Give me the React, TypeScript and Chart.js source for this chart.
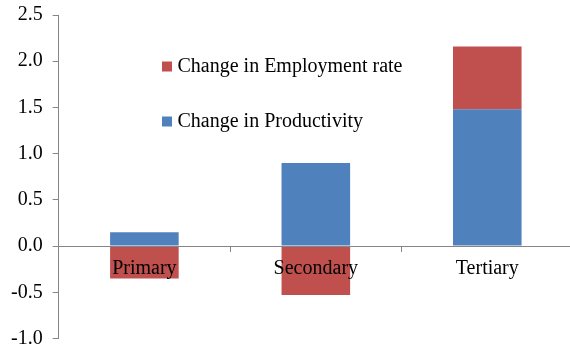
import React, { useEffect, useRef } from "react";
import { Chart, registerables } from "chart.js";

Chart.register(...registerables);

const categories = ["Primary", "Secondary", "Tertiary"];
const productivity = [0.15, 0.9, 1.48];
const employment = [-0.35, -0.53, 0.68];
const seriesNames = ["Change in Productivity", "Change in Employment rate"];
const seriesColors = ["#4F81BD", "#C0504D"];
const yMin = -1.0;
const yMax = 2.5;
const yStep = 0.5;

const FONT = "'Liberation Serif', 'Times New Roman', serif";
const AXIS_COLOR = "#868686";

const legendPlugin = {
  id: "customLegend",
  afterDraw(chart: any) {
    const ctx = chart.ctx;
    ctx.save();
    ctx.font = `20px ${FONT}`;
    ctx.textBaseline = "alphabetic";
    ctx.textAlign = "left";
    // legend drawn in reverse order (Employment first)
    const entries = [1, 0];
    const rows = [72, 127];
    entries.forEach((di, i) => {
      const ds = chart.data.datasets[di];
      const base = rows[i];
      ctx.fillStyle = ds.backgroundColor;
      ctx.fillRect(162, base - 10.5, 10, 10);
      ctx.fillStyle = "#000";
      ctx.fillText(ds.label, 177.5, base);
    });
    ctx.restore();
  },
};

export default function App() {
  const canvasRef = useRef<HTMLCanvasElement | null>(null);

  useEffect(() => {
    if (!canvasRef.current) return;
    const chart = new Chart(canvasRef.current, {
      type: "bar",
      data: {
        labels: categories,
        datasets: [
          {
            label: seriesNames[0],
            data: productivity,
            backgroundColor: seriesColors[0],
            borderWidth: 0,
          },
          {
            label: seriesNames[1],
            data: employment,
            backgroundColor: seriesColors[1],
            borderWidth: 0,
          },
        ],
      },
      options: {
        responsive: false,
        animation: false,
        devicePixelRatio: 1,
        layout: { padding: { left: 1, top: 15, right: 3, bottom: 11.5 } },
        datasets: { bar: { barPercentage: 0.4, categoryPercentage: 1.0 } },
        plugins: {
          legend: { display: false },
          tooltip: { enabled: false },
        },
        scales: {
          x: {
            type: "category",
            stacked: true,
            position: { y: 0 } as any,
            offset: true,
            grid: {
              display: true,
              drawOnChartArea: false,
              drawTicks: true,
              tickLength: 5,
              color: AXIS_COLOR,
              offset: true,
              z: 1,
            },
            border: { display: true, color: AXIS_COLOR, width: 1, z: 1 },
            ticks: {
              color: "#000",
              font: { family: FONT, size: 20 },
              padding: 6,
              maxRotation: 0,
              z: 1,
            },
          },
          y: {
            stacked: true,
            position: "left",
            min: yMin,
            max: yMax,
            afterFit: (s: any) => {
              s.paddingTop = 0;
              s.paddingBottom = 0;
            },
            grid: {
              display: true,
              drawOnChartArea: false,
              drawTicks: true,
              tickLength: 6,
              color: AXIS_COLOR,
            },
            border: { display: true, color: AXIS_COLOR, width: 1 },
            ticks: {
              stepSize: yStep,
              color: "#000",
              font: { family: FONT, size: 20 },
              padding: 10,
              callback: (v: any) => Number(v).toFixed(1),
            },
          } as any,
        },
      },
      plugins: [legendPlugin],
    });
    return () => chart.destroy();
  }, []);

  return (
    <div
      style={{
        position: "absolute",
        left: 0,
        top: 0,
        width: 570,
        height: 345,
        overflow: "hidden",
        background: "#fff",
      }}
    >
      <canvas
        ref={canvasRef}
        width={576}
        height={350}
        style={{ width: 576, height: 350, display: "block" }}
      />
    </div>
  );
}
